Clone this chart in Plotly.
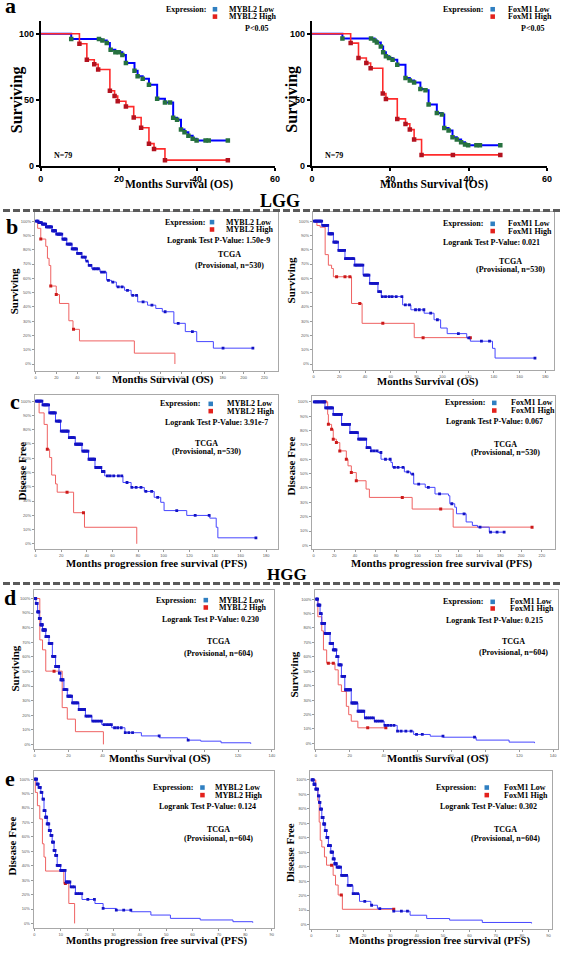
import plotly.graph_objects as go

W, H = 567, 953
SERIF = "Liberation Serif"
SANS = "Liberation Sans"

# ---------------- DATA ----------------
# Panel a (left): MYBL2, own cohort (N=79)
A1_LOW_T = [0, 7.8, 15.5, 16.9, 17.7, 19.1, 20.9, 21.8, 24.0, 24.8, 26.1, 27.7, 29.8, 31.8, 33.9, 34.9, 35.9, 36.8, 37.8, 38.9, 39.9, 47.9]
A1_LOW_S = [100, 96, 95, 93, 88, 86, 84, 78, 72, 68, 66, 61.5, 51, 48, 36.5, 35, 27.6, 25.6, 23, 20.6, 19.3, 19.3]
A1_LOW_C = [7.8, 14.9, 15.8, 16.9, 17.9, 19.1, 20.0, 20.9, 21.8, 24.0, 24.8, 26.1, 27.7, 29.8, 31.8, 33.1, 33.9, 34.9, 35.9, 36.8, 37.8, 38.9, 39.9, 42.2, 43.0, 47.9]
A1_HIGH_T = [0, 9.9, 11.8, 13.7, 14.7, 17.7, 18.9, 19.7, 21.8, 23.8, 25.7, 27.7, 29.0, 31.8, 47.9]
A1_HIGH_S = [100, 92.5, 80.4, 77, 73, 57, 53, 49, 45, 36.7, 29, 17, 13, 4.5, 4.5]
A1_HIGH_C = [9.9, 11.8, 13.7, 14.7, 17.7, 18.9, 19.7, 21.8, 23.8, 25.7, 27.7, 29.0, 31.8, 47.9]

# Panel a (right): FoxM1
A2_LOW_T = [0, 7.8, 16.0, 16.6, 17.6, 18.2, 18.9, 19.7, 20.6, 21.8, 23.9, 25.0, 26.1, 27.7, 29.0, 29.8, 31.9, 33.2, 33.8, 34.9, 35.9, 37.0, 38.1, 39.1, 39.9, 48.1]
A2_LOW_S = [100, 96.5, 95, 93.5, 90.5, 86, 83, 81.7, 80.4, 76.6, 66.6, 64.8, 63.3, 58.3, 57.3, 46.5, 40.2, 39, 28.9, 26.9, 21.9, 20.1, 18.1, 16.3, 15.8, 15.8]
A2_LOW_C = [7.8, 15.1, 16.0, 16.6, 17.6, 18.2, 18.9, 19.7, 20.6, 21.8, 23.9, 25.0, 26.1, 27.7, 29.0, 29.8, 31.9, 33.2, 33.8, 34.9, 35.9, 37.0, 38.1, 39.1, 39.9, 42.0, 42.9, 48.1]
A2_HIGH_T = [0, 9.9, 11.9, 13.9, 15.0, 18.1, 18.9, 21.8, 23.9, 25.0, 26.1, 28.0, 48.1]
A2_HIGH_S = [100, 93, 81.7, 78, 74, 54.8, 50.8, 35.7, 31.9, 27.6, 20.1, 8.5, 8.5]
A2_HIGH_C = [9.9, 11.9, 13.9, 15.0, 18.1, 18.9, 21.8, 23.9, 25.0, 26.1, 28.0, 36.0, 48.1]

# Panel b (LGG OS) MYBL2
B1_LOW_T = [0, 3, 6, 10, 15.8, 20, 25.6, 30, 35, 40, 44.5, 48, 50.8, 54, 62, 68.3, 73, 77.7, 85.6, 91.9, 98.2, 107.7, 115.6, 121.9, 133, 144, 155, 171, 209]
B1_LOW_S = [100, 99, 98, 96, 93.3, 91, 87.5, 84, 80.6, 77.5, 74.8, 72, 69, 66.7, 64.4, 58.6, 57.4, 54, 51.6, 48.1, 43.5, 41.2, 38.9, 36.6, 28.5, 22.7, 15.7, 11.1, 11.1]
B1_LOW_C = [0.8, 1.5, 2.4, 3.2, 4.0, 4.8, 5.7, 6.5, 7.3, 8.1, 8.9, 9.7, 10.4, 11.2, 12.2, 13.1, 13.8, 14.4, 15.4, 16.3, 17.1, 17.9, 18.6, 19.2, 20.3, 21.4, 22.1, 22.8, 23.5, 24.1, 25.2, 26.3, 27.1, 27.9, 28.6, 29.2, 30.4, 31.5, 32.6, 33.4, 34.2, 35.2, 36.1, 36.9, 37.7, 38.5, 39.4, 40.3, 41.2, 42.6, 43.7, 44.8, 46.3, 47.9, 49.5, 51.6, 53.2, 55.8, 58.1, 60.4, 63.5, 66.2, 70.1, 74.3, 79.5, 83.2, 88.4, 93.5, 97.1, 103.4, 111.9, 124.6, 137.2, 150.8, 180.3, 209]
B1_HIGH_T = [0, 2.0, 5.0, 9.8, 11.4, 13.0, 14.6, 19.9, 23.0, 32.0, 36.0, 42.2, 95, 134]
B1_HIGH_S = [100, 95, 87.5, 82.4, 74, 69, 54.6, 48.6, 42.4, 30.3, 24.3, 16.2, 7.6, 0]
B1_HIGH_C = [5.0, 14.6, 19.9, 36.5]

# Panel b (LGG OS) FoxM1
B2_LOW_T = [0, 6.4, 11.5, 15.4, 19.2, 24.4, 32, 38.5, 43.6, 50, 52.6, 61.5, 69.2, 75.6, 85.9, 93.6, 98.7, 103.8, 119, 121.8, 139, 141, 172]
B2_LOW_S = [100, 97, 91.2, 85.4, 79.6, 73.8, 69.2, 62.3, 56.5, 50.7, 47.2, 47.2, 41.4, 38, 35.6, 31, 25.2, 21.3, 18.3, 16, 11, 4.2, 4.2]
B2_LOW_C = [0.6, 1.2, 1.9, 2.6, 3.3, 4.1, 4.8, 5.5, 6.3, 7.2, 8.0, 8.8, 9.4, 10.1, 11.0, 11.9, 12.6, 13.3, 14.0, 14.8, 15.7, 16.5, 17.1, 17.7, 18.6, 19.6, 20.3, 21.0, 21.7, 22.4, 23.2, 24.1, 24.8, 25.6, 26.5, 27.3, 28.4, 29.5, 30.3, 31.2, 32.1, 33.0, 34.0, 35.1, 36.1, 37.2, 38.3, 39.4, 40.3, 41.3, 42.1, 43.0, 44.1, 45.2, 46.2, 47.1, 48.0, 48.8, 49.7, 50.6, 52.0, 53.4, 55.9, 58.7, 61.0, 64.2, 68.6, 71.3, 74.5, 79.2, 82.1, 85.7, 91.0, 96.2, 112.5, 120.6, 130.4, 136.7, 172]
B2_HIGH_T = [0, 2.6, 5.1, 9.0, 11.5, 14.0, 15.4, 29.5, 37.7, 78.2, 122]
B2_HIGH_S = [100, 97, 95.8, 76.6, 69.2, 66.9, 61.1, 42.4, 28.5, 18.5, 18.5]
B2_HIGH_C = [17.9, 24.4, 28.2, 35.9, 53.8, 85.1, 121.8]

# Panel c (LGG PFS) MYBL2
C1_LOW_T = [0, 5.4, 10.5, 15.6, 19.5, 25.9, 31, 36.2, 41.3, 46.4, 51.5, 54, 68.2, 74.6, 84.9, 92.6, 97.7, 100.3, 118, 136, 141, 142.3, 172]
C1_LOW_S = [100, 97.4, 91.8, 86, 79, 74.4, 69.8, 65, 59.3, 53.5, 50.7, 47.6, 43, 39.5, 36.7, 32.6, 29.1, 23.3, 19.9, 18, 11.6, 4.2, 4.2]
C1_LOW_C = [0.5, 1.1, 1.9, 2.7, 3.4, 4.2, 5.0, 5.8, 6.6, 7.3, 7.9, 8.6, 9.4, 10.2, 11.1, 11.9, 12.7, 13.4, 14.1, 14.7, 15.5, 16.2, 17.2, 18.1, 18.7, 19.3, 20.1, 21.0, 21.8, 22.6, 23.4, 24.2, 24.9, 25.5, 26.4, 27.4, 28.1, 28.8, 29.5, 30.3, 31.2, 32.1, 32.9, 33.7, 34.5, 35.2, 36.0, 36.9, 37.6, 38.4, 39.2, 40.1, 40.9, 41.7, 42.6, 43.5, 44.4, 45.3, 46.1, 47.0, 48.1, 49.2, 50.1, 51.0, 52.2, 53.4, 56.1, 58.2, 61.0, 64.7, 67.3, 71.4, 75.2, 78.5, 82.3, 86.1, 90.6, 95.3, 110.2, 124.6, 135.5, 172]
C1_HIGH_T = [0, 2.8, 6.7, 9.2, 11.0, 12.6, 15.6, 16.9, 29.7, 38.2, 79]
C1_HIGH_S = [100, 91.8, 83.7, 66.3, 60.5, 48.2, 42, 36.2, 21.8, 11.6, 0]
C1_HIGH_C = [9.2, 24.6, 37.4]

# Panel c (LGG PFS) FoxM1
C2_LOW_T = [0, 11, 19, 27, 35, 43, 51, 55.4, 62, 65, 74.5, 76, 87.5, 93.4, 96.5, 107.6, 117, 130, 131.3, 136, 137.7, 147, 153, 158, 169.3, 183.6]
C2_LOW_S = [100, 95.8, 91.2, 84.3, 78.5, 74, 68.1, 65.8, 64.7, 60, 57.8, 54.3, 51.2, 49.6, 42.7, 40.4, 35.8, 34.6, 29, 26.6, 22, 16.3, 13.9, 12.7, 9.2, 9.2]
C2_LOW_C = [0.7, 1.5, 2.4, 3.4, 4.2, 5.1, 6.1, 7.2, 8.1, 9.0, 9.9, 10.8, 11.7, 12.7, 13.8, 14.9, 15.7, 16.6, 17.4, 18.3, 19.4, 20.5, 21.3, 22.2, 23.1, 24.1, 25.0, 26.0, 26.9, 27.8, 28.8, 29.9, 30.7, 31.6, 32.7, 33.8, 34.7, 35.7, 36.5, 37.4, 38.4, 39.5, 40.4, 41.3, 42.3, 43.4, 44.5, 45.6, 46.7, 47.9, 49.1, 50.3, 51.5, 52.8, 54.2, 55.7, 58.4, 61.2, 64.9, 69.3, 73.8, 77.9, 81.4, 86.2, 90.8, 95.5, 101.3, 110.6, 121.4, 133.2, 145.0, 160.4, 170.5, 176.8, 183.6]
C2_HIGH_T = [0, 13.6, 14.3, 17.4, 19.0, 22.0, 25.3, 31.6, 33.2, 36.4, 41.2, 50.6, 53.8, 95, 134.5, 210.5]
C2_HIGH_S = [100, 91.2, 84.3, 80.8, 74, 71.6, 65.8, 60, 55.4, 50.7, 45, 39.2, 33.4, 25.3, 12.7, 12.7]
C2_HIGH_C = [11.0, 14.3, 17.4, 19.0, 22.0, 25.3, 31.6, 36.4, 41.2, 85.5, 122.5, 210.5]

# Panel d (HGG OS) MYBL2
D1_LOW_T = [0, 0.8, 1.8, 2.7, 3.7, 4.7, 6.6, 8.5, 10.5, 12.4, 14.4, 15.4, 17.3, 19.3, 22.2, 26.1, 30, 33.8, 39.6, 45.5, 53.3, 63, 73.7, 90.2, 98, 110, 127.5]
D1_LOW_S = [100, 96.6, 90.9, 86.4, 82, 78.4, 73.9, 69.3, 60.3, 53.4, 48.9, 44.3, 37.5, 33, 28.4, 23.9, 19.3, 15.9, 13.6, 11.4, 8, 5.8, 4.5, 2.9, 2.2, 1.1, 0.4]
D1_LOW_C = [0.2, 0.4, 0.7, 1.0, 1.3, 1.5, 1.8, 2.1, 2.3, 2.5, 2.8, 3.0, 3.2, 3.4, 3.7, 3.9, 4.1, 4.3, 4.6, 4.9, 5.1, 5.4, 5.7, 5.9, 6.2, 6.4, 6.7, 6.9, 7.2, 7.5, 7.8, 8.0, 8.3, 8.6, 8.9, 9.2, 9.5, 9.8, 10.2, 10.6, 11.0, 11.3, 11.7, 12.0, 12.4, 12.8, 13.1, 13.5, 13.9, 14.2, 14.6, 15.0, 15.5, 15.9, 16.4, 16.8, 17.3, 17.7, 18.2, 18.6, 19.1, 19.6, 20.2, 20.7, 21.3, 21.8, 22.4, 23.0, 23.7, 24.3, 25.0, 25.5, 26.3, 27.0, 27.8, 28.6, 29.5, 30.3, 31.2, 32.1, 33.2, 34.4, 35.6, 36.8, 38.1, 39.4, 41.0, 42.5, 44.0, 45.3, 47.2, 49.0, 51.1, 53.5, 55.6, 57.8, 73.5, 90.6]
D1_HIGH_T = [0, 3.1, 4.7, 6.6, 16.3, 19.3, 24.1, 40.6]
D1_HIGH_S = [100, 71.6, 64.8, 50.2, 25.2, 17.3, 8.7, 0]
D1_HIGH_C = [11.5]

# Panel d (HGG OS) FoxM1
D2_LOW_T = [0, 1.2, 2.5, 3.5, 5.4, 8.4, 10.3, 12.2, 13.2, 15.1, 17.1, 20.9, 24.8, 28.7, 34.5, 40.3, 48, 57.7, 67.5, 75.2, 94.6, 114, 129]
D2_LOW_S = [100, 95.8, 90, 83.2, 76.3, 69.4, 64.8, 60.2, 54.4, 46.4, 37.2, 28, 22.3, 17.7, 15.4, 12.5, 8.5, 6.2, 5, 4.3, 2.3, 0.9, 0.2]
D2_LOW_C = [0.2, 0.5, 0.8, 1.0, 1.3, 1.6, 1.9, 2.1, 2.4, 2.7, 2.9, 3.2, 3.5, 3.8, 4.0, 4.3, 4.6, 4.9, 5.2, 5.5, 5.8, 6.1, 6.4, 6.8, 7.1, 7.4, 7.7, 8.1, 8.4, 8.8, 9.1, 9.5, 9.9, 10.3, 10.7, 11.1, 11.5, 11.9, 12.3, 12.7, 13.1, 13.6, 14.0, 14.5, 15.0, 15.4, 15.9, 16.4, 17.0, 17.5, 18.1, 18.7, 19.3, 19.9, 20.5, 21.2, 21.9, 22.6, 23.3, 24.1, 24.9, 25.7, 26.5, 27.4, 28.3, 29.3, 30.3, 31.5, 32.7, 33.9, 35.1, 36.4, 37.8, 39.2, 40.8, 42.4, 44.2, 46.1, 48.2, 50.3, 53.1, 56.2, 59.4, 62.8, 75.0, 93.6]
D2_HIGH_T = [0, 1.2, 3.5, 4.5, 6.4, 11.3, 13.2, 15.1, 18.0, 19.4, 20.9, 24.8, 41.3]
D2_HIGH_S = [100, 87.8, 78, 64.8, 55.6, 51, 40.6, 36, 25.7, 19.9, 15.4, 10.8, 10.8]
D2_HIGH_C = [7.4, 10.3, 30.6, 41.3]

# Panel e (HGG PFS) MYBL2
E1_LOW_T = [0, 1, 1.6, 2.5, 3.1, 3.7, 4.3, 4.9, 5.6, 6.2, 6.8, 7.5, 8.1, 8.7, 10, 11.8, 13.7, 15.6, 18.1, 23, 26.1, 31.1, 36.7, 44.2, 51.6, 62.9, 75.3, 82.8]
E1_LOW_S = [100, 96.6, 94.3, 90.8, 86.2, 78.2, 73.6, 69, 64.4, 61, 56.4, 50.6, 47.2, 40.3, 36.8, 28.7, 25.3, 20.7, 16.6, 13.8, 10.4, 9.2, 8.1, 5.8, 3.5, 2.4, 1.2, 0.5]
E1_LOW_C = [0.2, 0.4, 0.7, 0.9, 1.1, 1.3, 1.5, 1.8, 2.0, 2.3, 2.6, 2.9, 3.3, 3.5, 3.7, 3.9, 4.1, 4.3, 4.5, 4.7, 4.9, 5.1, 5.3, 5.5, 5.7, 5.9, 6.1, 6.3, 6.5, 6.7, 6.9, 7.1, 7.3, 7.5, 7.7, 7.9, 8.1, 8.3, 8.5, 8.7, 8.9, 9.1, 9.3, 9.5, 9.8, 10.0, 10.3, 10.6, 10.9, 11.3, 11.7, 12.1, 12.5, 13.0, 13.5, 14.0, 14.6, 15.2, 15.8, 16.5, 17.2, 18.0, 20.3, 22.8, 26.1, 31.1, 33.9, 36.6]
E1_HIGH_T = [0, 0.4, 1.2, 2.1, 3.1, 3.7, 4.3, 11.2, 13.1, 15.3]
E1_HIGH_S = [100, 90.8, 81.6, 72.4, 55.2, 46, 36.3, 27.6, 13.8, 0]
E1_HIGH_C = [11.8]

# Panel e (HGG PFS) FoxM1
E2_LOW_T = [0, 0.9, 1.7, 2.5, 3, 3.4, 4, 4.6, 5.2, 5.8, 6.5, 7.4, 8.3, 8.9, 9.6, 11.4, 13.9, 15.8, 18.3, 22.6, 25.1, 31.3, 37.5, 43.8, 52.5, 64.9, 83.6]
E2_LOW_S = [100, 97, 93.6, 89, 84.4, 79.8, 74, 69.5, 64.9, 60.3, 54.6, 50, 45.4, 42, 39.7, 33.9, 27, 21.3, 16, 13.3, 11, 9.2, 6.4, 4.1, 3, 1.4, 0.7]
E2_LOW_C = [0.2, 0.4, 0.6, 0.8, 1.0, 1.2, 1.4, 1.7, 1.9, 2.2, 2.4, 2.7, 2.9, 3.1, 3.3, 3.5, 3.7, 3.9, 4.1, 4.3, 4.5, 4.7, 4.9, 5.1, 5.3, 5.5, 5.7, 5.9, 6.1, 6.3, 6.5, 6.7, 6.9, 7.1, 7.3, 7.5, 7.7, 7.9, 8.1, 8.3, 8.5, 8.7, 8.9, 9.1, 9.3, 9.5, 9.8, 10.1, 10.4, 10.7, 11.1, 11.5, 11.9, 12.4, 12.9, 13.4, 14.0, 14.6, 15.2, 15.9, 16.7, 17.6, 20.3, 22.9, 26.0, 31.3, 34.2, 36.5]
E2_HIGH_T = [0, 1.7, 2.5, 3.0, 3.4, 4.0, 5.0, 5.8, 8.3, 9.2, 10.2, 11.8, 31.3]
E2_HIGH_S = [100, 93.6, 85.7, 70.8, 58.2, 53.6, 46.7, 41, 34, 27.3, 20.4, 10.5, 10.5]
E2_HIGH_C = [7.7, 11.4, 31.3]

# Tick labels
A_XTICKS = [0, 20, 40, 60]
A_YTICKS = [0, 50, 100]
PCT_TICKS = [0, 10, 20, 30, 40, 50, 60, 70, 80, 90, 100]
PCT_LABELS = ["0%", "10%", "20%", "30%", "40%", "50%", "60%", "70%", "80%", "90%", "100%"]
XT_220 = [0, 20, 40, 60, 80, 100, 120, 140, 160, 180, 200, 220]
XT_180 = [0, 20, 40, 60, 80, 100, 120, 140, 160, 180]
XT_140 = [0, 20, 40, 60, 80, 100, 120, 140]
XT_90 = [0, 10, 20, 30, 40, 50, 60, 70, 80, 90]

# Texts
GENES = ["MYBL2", "FoxM1"]
PVALS = {"b1": "1.50e-9", "b2": "0.021", "c1": "3.91e-7", "c2": "0.067",
         "d1": "0.230", "d2": "0.215", "e1": "0.124", "e2": "0.302"}
NS = {"b": 530, "c": 530, "d": 604, "e": 604}


# ---------------- HELPERS ----------------
def fx(px):
    return px / W


def fy(py):
    return 1 - py / H


def surv_at(ts, ss, t):
    v = ss[0]
    for ti, si in zip(ts, ss):
        if ti <= t + 1e-9:
            v = si
        else:
            break
    return v


fig = go.Figure()
annotations = []
shapes = []
layout_axes = {}


def ann(text, x, y, size, xanchor="center", yanchor="middle", color="black",
        family=SERIF, angle=0):
    annotations.append(dict(text=text, x=fx(x), y=fy(y), xref="paper", yref="paper",
                            showarrow=False, xanchor=xanchor, yanchor=yanchor,
                            textangle=angle, font=dict(size=size, color=color, family=family)))


def axname(idx):
    return ("x", "y") if idx == 1 else (f"x{idx}", f"y{idx}")


def add_line(idx, ts, ss, color, width):
    xa, ya = axname(idx)
    fig.add_trace(go.Scatter(x=ts, y=ss, mode="lines", line=dict(color=color, width=width, shape="hv"),
                             xaxis=xa, yaxis=ya, showlegend=False, hoverinfo="skip"))


def add_censor(idx, ts, ss, cs, color, size):
    xa, ya = axname(idx)
    cy = [surv_at(ts, ss, c) for c in cs]
    fig.add_trace(go.Scatter(x=cs, y=cy, mode="markers",
                             marker=dict(symbol="square", size=size, color=color, line=dict(width=0)),
                             xaxis=xa, yaxis=ya, showlegend=False, hoverinfo="skip"))


def set_axes(idx, L, T, R, B, xr, yr, kind, xticks=None):
    xk = "xaxis" if idx == 1 else f"xaxis{idx}"
    yk = "yaxis" if idx == 1 else f"yaxis{idx}"
    xa_name, ya_name = axname(idx)
    if kind == "a":
        common = dict(showline=True, linecolor="black", linewidth=2, ticks="outside", ticklen=3,
                      tickwidth=2, tickcolor="black", showgrid=False, zeroline=False,
                      tickfont=dict(family=SANS, size=9, color="black", weight="bold"))
        layout_axes[xk] = dict(common, domain=[fx(L), fx(R)], range=xr, anchor=ya_name,
                               tickvals=A_XTICKS, ticktext=[str(v) for v in A_XTICKS])
        layout_axes[yk] = dict(common, domain=[fy(B), fy(T)], range=yr, anchor=xa_name,
                               tickvals=A_YTICKS, ticktext=[str(v) for v in A_YTICKS])
    else:
        common = dict(showline=True, linecolor="#a8a8a8", linewidth=1, mirror=True, ticks="outside",
                      ticklen=2, tickwidth=1, tickcolor="#999", showgrid=False, zeroline=False,
                      tickfont=dict(family=SANS, size=4, color="#555"))
        layout_axes[xk] = dict(common, domain=[fx(L), fx(R)], range=xr, anchor=ya_name,
                               tickvals=xticks, ticktext=[str(v) for v in xticks])
        layout_axes[yk] = dict(common, domain=[fy(B), fy(T)], range=yr, anchor=xa_name,
                               tickvals=PCT_TICKS, ticktext=PCT_LABELS)


def legend_block(gene, exp_right, sq_x, lab_x, y1, y2, size=8):
    ann("<b>Expression:</b>", exp_right, y1, size, xanchor="right")
    shapes.append(dict(type="rect", xref="paper", yref="paper", x0=fx(sq_x - 2.3), x1=fx(sq_x + 2.3),
                       y0=fy(y1 + 2.3), y1=fy(y1 - 2.3), fillcolor="#2f7fc1", line=dict(width=0)))
    shapes.append(dict(type="rect", xref="paper", yref="paper", x0=fx(sq_x - 2.3), x1=fx(sq_x + 2.3),
                       y0=fy(y2 + 2.3), y1=fy(y2 - 2.3), fillcolor="#e3211c", line=dict(width=0)))
    ann(f"<b>{gene} Low</b>", lab_x, y1, size, xanchor="left")
    ann(f"<b>{gene} High</b>", lab_x, y2, size, xanchor="left")


# ---------------- PANEL a ----------------
set_axes(1, 38.3, 20.7, 276, 167, [0, 60], [0, 110], "a")
set_axes(2, 313.3, 20.7, 551.7, 167, [0, 60], [0, 110], "a")
add_line(1, A1_LOW_T, A1_LOW_S, "#0000ff", 2)
add_line(1, A1_HIGH_T, A1_HIGH_S, "#ff2b2b", 1.6)
add_censor(1, A1_LOW_T, A1_LOW_S, A1_LOW_C, "#27713f", 4.5)
add_censor(1, A1_HIGH_T, A1_HIGH_S, A1_HIGH_C, "#b3121f", 4.5)
add_line(2, A2_LOW_T, A2_LOW_S, "#0000ff", 2)
add_line(2, A2_HIGH_T, A2_HIGH_S, "#ff2b2b", 1.6)
add_censor(2, A2_LOW_T, A2_LOW_S, A2_LOW_C, "#27713f", 4.5)
add_censor(2, A2_HIGH_T, A2_HIGH_S, A2_HIGH_C, "#b3121f", 4.5)

legend_block("MYBL2", 208.3, 215, 227.3, 9.3, 16.7)
legend_block("FoxM1", 489.3, 496.7, 510.7, 9.3, 16.7)
ann("<b>P<0.05</b>", 270.7, 29, 8, xanchor="right")
ann("<b>P<0.05</b>", 550.7, 29, 8, xanchor="right")
ann("<b>N=79</b>", 50, 156, 8, xanchor="left")
ann("<b>N=79</b>", 325, 156, 8, xanchor="left")
ann("<b>Surviving</b>", 15, 100, 16, angle=-90)
ann("<b>Surviving</b>", 293.3, 100, 16, angle=-90)
ann("<b>Months Survival (OS)</b>", 179, 185, 11.5)
ann("<b>Months Survival (OS)</b>", 437.5, 185.5, 11.5)
ann("<b>a</b>", 8, 6, 22)

# ---------------- TCGA PANELS ----------------
BLUE_L, RED_L = "#4646ff", "#ef6262"
BLUE_M, RED_M = "#1212c4", "#cc1a1a"

tcga = [
    (3, 32.3, 213.3, 279.3, 372.7, [-0.7, 233.5], [-4.7, 106.3], XT_220,
     (B1_LOW_T, B1_LOW_S, B1_LOW_C, B1_HIGH_T, B1_HIGH_S, B1_HIGH_C), 0, "b1", "b",
     (207, 212, 224, 223.3, 230.7, 272.7, 241.7, 230, 256, 267.3),
     "Surviving", (12, 293), "Months Survival (OS)", (162.5, 381.7)),
    (4, 314.3, 213.3, 559.3, 372.3, [-0.54, 187.1], [-4.4, 106.3], XT_180,
     (B2_LOW_T, B2_LOW_S, B2_LOW_C, B2_HIGH_T, B2_HIGH_S, B2_HIGH_C), 1, "b2", "b",
     (489.3, 496.7, 510, 225, 232.3, 546.7, 244, 515, 263.3, 271),
     "Surviving", (292.3, 281.7), "Months Survival (OS)", (430.8, 383.3)),
    (5, 32.3, 396.7, 279.3, 551.7, [-0.54, 189.5], [-3.5, 104.6], XT_180,
     (C1_LOW_T, C1_LOW_S, C1_LOW_C, C1_HIGH_T, C1_HIGH_S, C1_HIGH_C), 0, "c1", "c",
     (201.7, 210.7, 225, 406, 413.3, 270.7, 425, 206.7, 446, 454.3),
     "Disease Free", (18.3, 474), "Months progression free survival (PFS)", (155.8, 566)),
    (6, 313.3, 398.3, 560, 551.7, [-1.6, 232.7], [-2.4, 103.9], XT_220,
     (C2_LOW_T, C2_LOW_S, C2_LOW_C, C2_HIGH_T, C2_HIGH_S, C2_HIGH_C), 1, "c2", "c",
     (490.7, 498.3, 513.3, 405, 412.7, 550, 424, 509.3, 446.7, 455),
     "Disease Free", (291.7, 468.3), "Months progression free survival (PFS)", (445.3, 566.7)),
    (7, 31.5, 593.3, 275, 752.7, [-0.3, 141.3], [-3.0, 105.7], XT_140,
     (D1_LOW_T, D1_LOW_S, D1_LOW_C, D1_HIGH_T, D1_HIGH_S, D1_HIGH_C), 0, "d1", "d",
     (197.3, 205.7, 217.3, 603.3, 610.7, 261.7, 622.7, 218.3, 645, 656.7),
     "Surviving", (12.5, 671.7), "Months Survival (OS)", (159.2, 762.7)),
    (8, 316.7, 593.3, 562.7, 752.7, [-0.35, 142.7], [-3.7, 106.2], XT_140,
     (D2_LOW_T, D2_LOW_S, D2_LOW_C, D2_HIGH_T, D2_HIGH_S, D2_HIGH_C), 1, "d2", "d",
     (489.3, 496.7, 512.3, 605, 611.7, 549.3, 623.3, 517.3, 645, 656),
     "Surviving", (295, 678.3), "Months Survival (OS)", (441.2, 762.7)),
    (9, 31, 775, 275, 933.3, [-0.26, 90.9], [-3.45, 105.7], XT_90,
     (E1_LOW_T, E1_LOW_S, E1_LOW_C, E1_HIGH_T, E1_HIGH_S, E1_HIGH_C), 0, "e1", "e",
     (195, 202.3, 213.3, 791.7, 799.3, 258.3, 810.7, 219, 834.3, 842.7),
     "Disease Free", (9, 850), "Months progression free survival (PFS)", (155.8, 945)),
    (10, 311.7, 775, 556.7, 934, [-0.37, 91.3], [-3.2, 106.2], XT_90,
     (E2_LOW_T, E2_LOW_S, E2_LOW_C, E2_HIGH_T, E2_HIGH_S, E2_HIGH_C), 1, "e2", "e",
     (482.3, 490.7, 505.7, 791.7, 799.3, 543.3, 810.7, 510, 834.3, 842.7),
     "Disease Free", (291, 856.7), "Months progression free survival (PFS)", (443.7, 945.7)),
]

for (idx, L, T, R, B, xr, yr, xt, data, gi, pk, nk, tp, ytl, ytp, xtl, xtp) in tcga:
    set_axes(idx, L, T, R, B, xr, yr, "tcga", xt)
    lt, ls, lc, ht, hs, hc = data
    add_line(idx, ht, hs, RED_L, 1)
    add_line(idx, lt, ls, BLUE_L, 1)
    add_censor(idx, ht, hs, hc, RED_M, 3)
    add_censor(idx, lt, ls, lc, BLUE_M, 2.8)
    exp_r, sq_x, lab_x, y1, y2, lr_x, lr_y, tc_x, tc_y, pv_y = tp
    legend_block(GENES[gi], exp_r, sq_x, lab_x, y1, y2)
    ann(f"<b>Logrank Test P-Value: {PVALS[pk]}</b>", lr_x, lr_y, 8, xanchor="right")
    ann("<b>TCGA</b>", tc_x, tc_y, 8)
    ann(f"<b>(Provisional, n={NS[nk]})</b>", tc_x, pv_y, 8)
    ann(f"<b>{ytl}</b>", ytp[0], ytp[1], 11, angle=-90)
    ann(f"<b>{xtl}</b>", xtp[0], xtp[1], 10.8)

# panel letters
ann("<b>b</b>", 9, 228, 22)
ann("<b>c</b>", 12, 404, 22)
ann("<b>d</b>", 7, 601, 22)
ann("<b>e</b>", 7, 783, 22)

# Section separators
for yy in (211.7, 586.7):
    shapes.append(dict(type="line", xref="paper", yref="paper", x0=0, x1=1, y0=fy(yy), y1=fy(yy),
                       line=dict(color="#5a5a5a", width=3, dash="7px,3px")))
ann("<b>LGG</b>", 281, 202.5, 18)
ann("<b>HGG</b>", 288, 578, 17)

fig.update_layout(
    width=W, height=H, margin=dict(l=0, r=0, t=0, b=0),
    paper_bgcolor="white", plot_bgcolor="white", showlegend=False,
    annotations=annotations, shapes=shapes, **layout_axes,
)
fig.write_html("out.html", config={"displayModeBar": False, "staticPlot": True},
               post_script="document.body.style.margin='0';document.body.style.padding='0';"
                           "document.body.style.overflow='hidden';")
